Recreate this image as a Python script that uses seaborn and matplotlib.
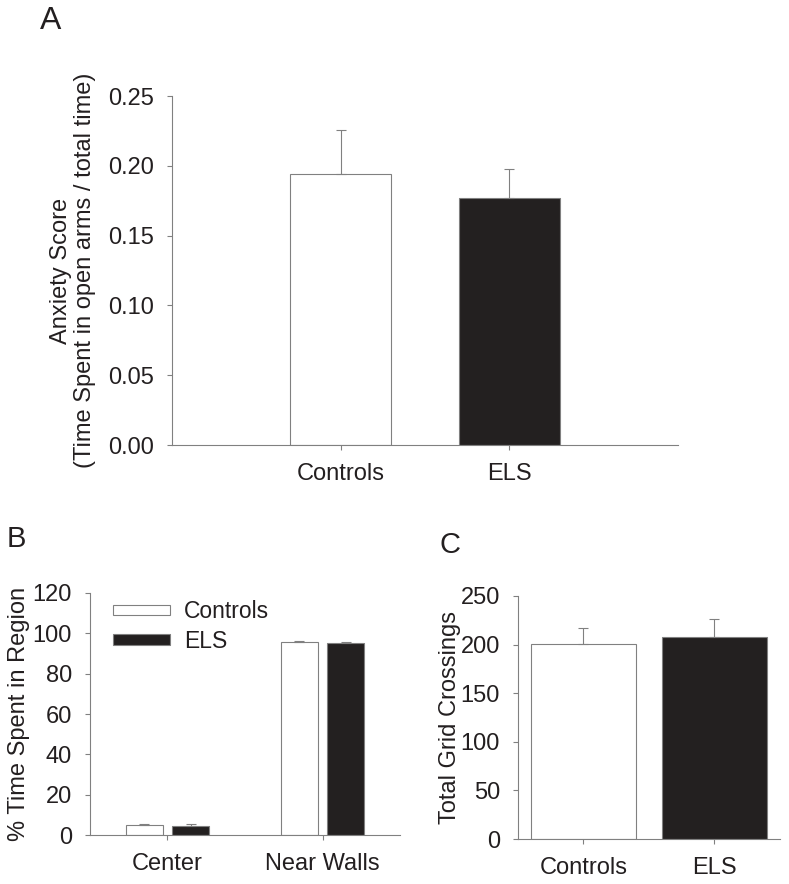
import numpy as np
import pandas as pd
import matplotlib
matplotlib.use('Agg')
import matplotlib.pyplot as plt
from matplotlib.ticker import FormatStrFormatter
import seaborn as sns

# Panel A: anxiety score (elevated plus maze)
groups = ['Controls', 'ELS']
anxiety_mean = [0.194, 0.177]
anxiety_sem = [0.032, 0.021]

# Panel B: % time spent per region (open field)
regions = ['Center', 'Near Walls']
ctrl_region_pct = [4.8, 95.5]
els_region_pct = [4.6, 95.3]
ctrl_region_sem = [0.6, 0.6]
els_region_sem = [0.7, 0.5]

# Panel C: total grid crossings
crossings_mean = [201, 208]
crossings_sem = [16, 18]

bar_colors = ['white', '#231f20']
gray = '#808080'
txt = '#231f20'

sns.set_theme(style='ticks')
plt.rcParams['font.family'] = ['Liberation Sans', 'DejaVu Sans']
plt.rcParams['text.color'] = txt
plt.rcParams['axes.labelcolor'] = txt
plt.rcParams['xtick.color'] = gray
plt.rcParams['ytick.color'] = gray
plt.rcParams['xtick.labelcolor'] = txt
plt.rcParams['ytick.labelcolor'] = txt

fs = 17


def style_axis(ax):
    sns.despine(ax=ax)
    for s in ['left', 'bottom']:
        ax.spines[s].set_color(gray)
        ax.spines[s].set_linewidth(0.8)
    ax.tick_params(axis='both', length=3.5, width=0.8, pad=9.5, labelsize=fs)
    ax.set_xlabel('')


def add_errbars(ax, sems):
    # upper error bars only, on top of each bar of each container
    for cont, err in zip(ax.containers, sems):
        xs = [b.get_x() + b.get_width() / 2 for b in cont]
        ys = [b.get_height() for b in cont]
        ax.errorbar(xs, ys, yerr=[np.zeros(len(err)), err], fmt='none',
                    ecolor=gray, elinewidth=0.8, capsize=3.5, capthick=0.8, zorder=3)


fig = plt.figure(figsize=(7.89, 8.84), dpi=100)

# ---- Panel A
axA = fig.add_axes([0.218, 0.4966, 0.641, 0.3948])
dfA = pd.DataFrame({'group': groups, 'score': anxiety_mean})
sns.barplot(data=dfA, x='group', y='score', hue='group', palette=bar_colors,
            edgecolor=gray, linewidth=0.8, width=0.6, legend=False, ax=axA)
add_errbars(axA, [[s] for s in anxiety_sem])
axA.set_xlim(-1, 2)
axA.set_ylim(0, 0.25)
axA.set_yticks(np.arange(0, 0.26, 0.05))
axA.yaxis.set_major_formatter(FormatStrFormatter('%.2f'))
style_axis(axA)
axA.set_ylabel('Anxiety Score\n(Time Spent in open arms / total time)', fontsize=fs,
               linespacing=1.1)
axA.yaxis.set_label_coords(-0.150, 0.5)

# ---- Panel B
axB = fig.add_axes([0.114, 0.0554, 0.393, 0.2738])
dfB = pd.DataFrame({
    'region': regions * 2,
    'pct': ctrl_region_pct + els_region_pct,
    'group': [groups[0]] * len(regions) + [groups[1]] * len(regions),
})
sns.barplot(data=dfB, x='region', y='pct', hue='group', palette=bar_colors,
            edgecolor=gray, linewidth=0.8, width=0.6, gap=0.2, ax=axB)
add_errbars(axB, [ctrl_region_sem, els_region_sem])
axB.set_xlim(-0.5, 1.5)
axB.set_ylim(0, 120)
axB.set_yticks(np.arange(0, 121, 20))
style_axis(axB)
axB.set_ylabel('% Time Spent in Region', fontsize=fs)
axB.yaxis.set_label_coords(-0.194, 0.5)
old = axB.get_legend()
handles = old.legend_handles
labels = [t.get_text() for t in old.texts]
for h in handles:
    h.set_edgecolor(gray)
    h.set_linewidth(0.8)
axB.legend(handles, labels, loc='upper left', bbox_to_anchor=(0.074, 0.97),
           frameon=False, fontsize=fs - 0.5, handlelength=2.5, handleheight=0.33,
           handletextpad=0.6, labelspacing=0.28, borderpad=0, borderaxespad=0)

# ---- Panel C
axC = fig.add_axes([0.6565, 0.0509, 0.332, 0.2749])
dfC = pd.DataFrame({'group': groups, 'crossings': crossings_mean})
sns.barplot(data=dfC, x='group', y='crossings', hue='group', palette=bar_colors,
            edgecolor=gray, linewidth=0.8, width=0.8, legend=False, ax=axC)
add_errbars(axC, [[s] for s in crossings_sem])
axC.set_xlim(-0.5, 1.5)
axC.set_ylim(0, 250)
axC.set_yticks(np.arange(0, 251, 50))
style_axis(axC)
axC.set_ylabel('Total Grid Crossings', fontsize=fs)
axC.yaxis.set_label_coords(-0.218, 0.5)

# panel letters
fig.text(40 / 789, 1 - 29 / 884, 'A', fontsize=23, va='baseline')
fig.text(7 / 789, 1 - 547 / 884, 'B', fontsize=21, va='baseline')
fig.text(440 / 789, 1 - 553 / 884, 'C', fontsize=21, va='baseline')

fig.savefig('out.png', dpi=100)
